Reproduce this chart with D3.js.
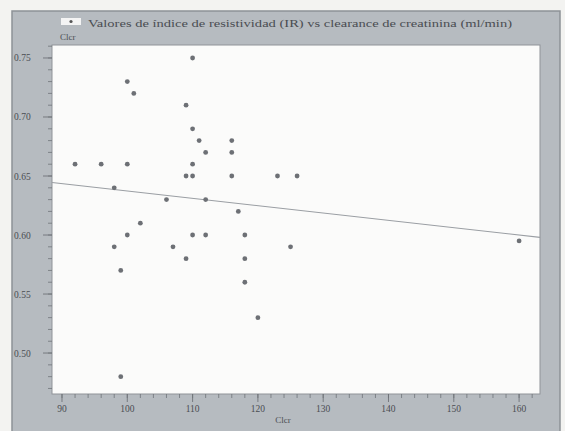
<!DOCTYPE html>
<html><head><meta charset="utf-8">
<script src="https://cdn.jsdelivr.net/npm/d3@7"></script>
<style>
html,body{margin:0;padding:0;background:#f3f3f1;}
svg{display:block;}
text{font-family:"Liberation Serif","DejaVu Serif",serif;}
</style></head>
<body>
<script>
// Data
const clcr = [110,100,101,109,110,111,116,112,116,92,96,100,110,109,110,116,123,126,98,106,112,117,102,100,110,112,118,98,107,125,109,118,99,118,120,99,160];
const ir   = [0.75,0.73,0.72,0.71,0.69,0.68,0.68,0.67,0.67,0.66,0.66,0.66,0.66,0.65,0.65,0.65,0.65,0.65,0.64,0.63,0.63,0.62,0.61,0.60,0.60,0.60,0.60,0.59,0.59,0.59,0.58,0.58,0.57,0.56,0.53,0.48,0.595];
const trendX = [88.47, 163.2];
const trendY = [0.6445, 0.598];
const xTicks = [90,100,110,120,130,140,150,160];
const yTicks = [0.50,0.55,0.60,0.65,0.70,0.75];
const titleText = "Valores de índice de resistividad (IR) vs clearance de creatinina (ml/min)";
const legendSub = "Clcr";
const xTitle = "Clcr";

const W=565,H=431;
const svg=d3.select("body").append("svg").attr("width",W).attr("height",H);
const L=52,R=540,T=45,B=394;
const x=d3.scaleLinear().domain([88.47,163.2]).range([L,R]);
const y=d3.scaleLinear().domain([0.4653,0.761]).range([B,T]);

// panel
svg.append("rect").attr("x",12).attr("y",11).attr("width",548).attr("height",421)
  .attr("fill","#b6bbc0").attr("stroke","#8d9297").attr("stroke-width",1.5);
svg.append("rect").attr("x",L).attr("y",T).attr("width",R-L).attr("height",B-T)
  .attr("fill","#fbfbfa").attr("stroke","#8f9398").attr("stroke-width",1);

// legend / title
svg.append("rect").attr("x",61).attr("y",18).attr("width",20).attr("height",7).attr("fill","#f4f4f4");
svg.append("circle").attr("cx",71).attr("cy",21.5).attr("r",1.6).attr("fill","#555");
svg.append("text").attr("x",88).attr("y",27).attr("font-size",10.5).attr("fill","#4a4d52")
  .attr("textLength",424).attr("lengthAdjust","spacingAndGlyphs").text(titleText);
svg.append("text").attr("x",60).attr("y",40).attr("font-size",9).attr("fill","#4a4d52").text(legendSub);

// y axis ticks
const yMinor=d3.range(0.47,0.761,0.01).map(v=>+v.toFixed(2));
svg.append("g").selectAll("line").data(yMinor).join("line")
  .attr("x1",L-4).attr("x2",L).attr("y1",d=>y(d)).attr("y2",d=>y(d))
  .attr("stroke","#6f7378").attr("stroke-width",0.8);
svg.append("g").selectAll("line").data(yTicks).join("line")
  .attr("x1",L-9).attr("x2",L).attr("y1",d=>y(d)).attr("y2",d=>y(d))
  .attr("stroke","#6f7378").attr("stroke-width",0.9);
svg.append("g").selectAll("text").data(yTicks).join("text")
  .attr("x",14).attr("y",d=>y(d)+3.5).attr("font-size",9.5).attr("fill","#4a4d52")
  .text(d=>d3.format(".2f")(d));

// x axis ticks
const xMinor=d3.range(90,164,2);
svg.append("g").selectAll("line").data(xMinor).join("line")
  .attr("x1",d=>x(d)).attr("x2",d=>x(d)).attr("y1",B).attr("y2",B+4)
  .attr("stroke","#6f7378").attr("stroke-width",0.8);
svg.append("g").selectAll("line").data(xTicks).join("line")
  .attr("x1",d=>x(d)).attr("x2",d=>x(d)).attr("y1",B).attr("y2",B+8)
  .attr("stroke","#6f7378").attr("stroke-width",0.9);
svg.append("g").selectAll("text").data(xTicks).join("text")
  .attr("x",d=>x(d)).attr("y",412).attr("text-anchor","middle").attr("font-size",9.5).attr("fill","#4a4d52")
  .text(d=>d);
svg.append("text").attr("x",283).attr("y",423).attr("text-anchor","middle").attr("font-size",9).attr("fill","#4a4d52").text(xTitle);

// trend line
svg.append("line").attr("x1",x(trendX[0])).attr("x2",x(trendX[1]))
  .attr("y1",y(trendY[0])).attr("y2",y(trendY[1]))
  .attr("stroke","#9a9ea3").attr("stroke-width",1.1);

// points
svg.append("g").selectAll("circle").data(clcr.map((c,i)=>[c,ir[i]])).join("circle")
  .attr("cx",d=>x(d[0])).attr("cy",d=>y(d[1])).attr("r",2.4).attr("fill","#6d7075");
</script>
</body></html>
